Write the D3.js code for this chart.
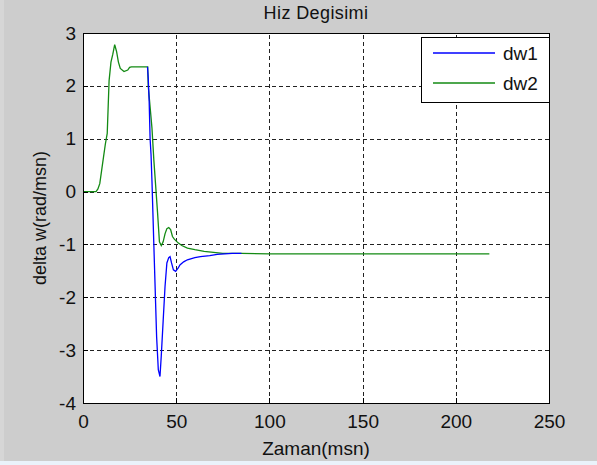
<!DOCTYPE html>
<html>
<head>
<meta charset="utf-8">
<script src="https://cdn.jsdelivr.net/npm/d3@7"></script>
<style>
  body { margin: 0; background: #cdcdcd; }
  svg { display: block; }
  text { font-family: "Liberation Sans", Arial, sans-serif; fill: #111; }
</style>
</head>
<body>
<div id="chart"></div>
<script>
// svg container
var svgWidth = 597;
var svgHeight = 465;

// axes box in pixels
var margin = { top: 33, right: 48, bottom: 62, left: 83 };
var width = svgWidth - margin.left - margin.right;
var height = svgHeight - margin.top - margin.bottom;

// data (time in msn, delta w in rad/msn)
var time1 = [34.6, 35, 35.5, 36, 36.5, 37, 37.5, 38, 38.6, 39.5, 40.4, 41.3, 42, 43, 44, 45, 46, 46.7,
  47.5, 48.5, 49.7, 51, 52, 54, 56, 60, 63, 68, 72, 80, 85];
var dw1 = [2.36, 2.15, 1.7, 1.0, 0.7, 0.2, -0.4, -1.0, -1.7, -2.75, -3.37, -3.5, -3.1, -2.45, -1.8, -1.35, -1.25, -1.23,
  -1.35, -1.48, -1.51, -1.45, -1.39, -1.33, -1.29, -1.25, -1.23, -1.21, -1.19, -1.17, -1.17];

var time2 = [0, 7, 8, 9, 10, 11, 12, 13, 14, 15, 16, 17, 18, 19, 20, 22, 24, 25, 26, 34.7,
  35, 36, 37, 38, 39, 40, 41, 42, 43, 44, 45, 46, 47, 48, 49, 51, 53, 56, 60, 65, 70, 75, 85, 100, 218];
var dw2 = [0, 0, 0.05, 0.15, 0.4, 0.65, 0.9, 1.1, 2.1, 2.45, 2.6, 2.78, 2.65, 2.45, 2.33, 2.27, 2.3, 2.35, 2.36, 2.36,
  2.0, 1.6, 1.2, 0.6, 0.1, -0.4, -0.95, -1.02, -0.95, -0.8, -0.7, -0.68, -0.72, -0.85, -0.9, -0.97, -1.02, -1.07,
  -1.1, -1.13, -1.15, -1.17, -1.17, -1.18, -1.18];

var xTicks = [0, 50, 100, 150, 200, 250];
var yTicks = [-4, -3, -2, -1, 0, 1, 2, 3];
var seriesNames = ["dw1", "dw2"];
var seriesColors = ["#0000ff", "#138a13"];

var svg = d3.select("#chart")
  .append("svg")
  .attr("width", svgWidth)
  .attr("height", svgHeight);

// figure background + window edges
svg.append("rect").attr("width", svgWidth).attr("height", svgHeight).attr("fill", "#cdcdcd");
svg.append("rect").attr("x", 0).attr("y", 0).attr("width", 4).attr("height", svgHeight).attr("fill", "#d6d6d6");
svg.append("rect").attr("x", 0).attr("y", 461).attr("width", svgWidth).attr("height", 4).attr("fill", "#eaf2fa");

var chartGroup = svg.append("g")
  .attr("transform", `translate(${margin.left}, ${margin.top})`);

// scales
var xScale = d3.scaleLinear().domain([0, 250]).range([0, width]);
var yScale = d3.scaleLinear().domain([-4, 3]).range([height, 0]);

// white axes area
chartGroup.append("rect")
  .attr("width", width)
  .attr("height", height)
  .attr("fill", "#fff");

// dashed grid
var xGrid = chartGroup.append("g")
  .attr("transform", `translate(0, ${height})`)
  .call(d3.axisBottom(xScale).tickValues(xTicks).tickSize(-height).tickFormat(""));
var yGrid = chartGroup.append("g")
  .call(d3.axisLeft(yScale).tickValues(yTicks).tickSize(-width).tickFormat(""));
[xGrid, yGrid].forEach(function(g) {
  g.select(".domain").remove();
  g.selectAll("line")
    .attr("stroke", "#222")
    .attr("stroke-dasharray", "4,3")
    .attr("shape-rendering", "crispEdges");
});

// lines
var line = d3.line()
  .x(d => xScale(d[0]))
  .y(d => yScale(d[1]));

chartGroup.append("path")
  .datum(d3.zip(time2, dw2))
  .attr("d", line)
  .attr("fill", "none")
  .attr("stroke", seriesColors[1])
  .attr("stroke-width", 1.3);

chartGroup.append("path")
  .datum(d3.zip(time1, dw1))
  .attr("d", line)
  .attr("fill", "none")
  .attr("stroke", seriesColors[0])
  .attr("stroke-width", 1.3);

// axes with inward ticks, plain hyphen minus like the original
var fmt = d => String(d);
var bottomAxis = d3.axisBottom(xScale).tickValues(xTicks).tickSize(-5).tickPadding(12).tickFormat(fmt);
var leftAxis = d3.axisLeft(yScale).tickValues(yTicks).tickSize(-5).tickPadding(7).tickFormat(fmt);

var xAxisG = chartGroup.append("g")
  .attr("transform", `translate(0, ${height})`)
  .call(bottomAxis);
var yAxisG = chartGroup.append("g")
  .call(leftAxis);
[xAxisG, yAxisG].forEach(function(g) {
  g.select(".domain").remove();
  g.selectAll("line").attr("stroke", "#000").attr("shape-rendering", "crispEdges");
  g.selectAll("text")
    .style("font-family", "\"Liberation Sans\", Arial, sans-serif")
    .style("font-size", "19px")
    .attr("fill", "#111");
});

// axes box
chartGroup.append("rect")
  .attr("width", width)
  .attr("height", height)
  .attr("fill", "none")
  .attr("stroke", "#000")
  .attr("shape-rendering", "crispEdges");

// legend
var legend = chartGroup.append("g")
  .attr("transform", `translate(${width - 128}, 4)`);
legend.append("rect")
  .attr("width", 128)
  .attr("height", 65)
  .attr("fill", "#fff")
  .attr("stroke", "#000")
  .attr("shape-rendering", "crispEdges");
seriesNames.forEach(function(name, i) {
  legend.append("line")
    .attr("x1", 12).attr("x2", 74)
    .attr("y1", 16 + i * 30).attr("y2", 16 + i * 30)
    .attr("stroke", seriesColors[i])
    .attr("stroke-width", 1.5);
  legend.append("text")
    .attr("x", 82)
    .attr("y", 16 + i * 30)
    .attr("dy", "0.35em")
    .style("font-size", "19px")
    .text(name);
});

// title and axis labels
svg.append("text")
  .attr("x", margin.left + width / 2)
  .attr("y", 19)
  .attr("text-anchor", "middle")
  .style("font-size", "18px")
  .style("letter-spacing", "0.4px")
  .text("Hiz Degisimi");

svg.append("text")
  .attr("x", margin.left + width / 2)
  .attr("y", 455)
  .attr("text-anchor", "middle")
  .style("font-size", "19px")
  .text("Zaman(msn)");

svg.append("text")
  .attr("transform", "rotate(-90)")
  .attr("x", -(margin.top + height / 2))
  .attr("y", 46)
  .attr("text-anchor", "middle")
  .style("font-size", "18px")
  .text("delta w(rad/msn)");
</script>
</body>
</html>
